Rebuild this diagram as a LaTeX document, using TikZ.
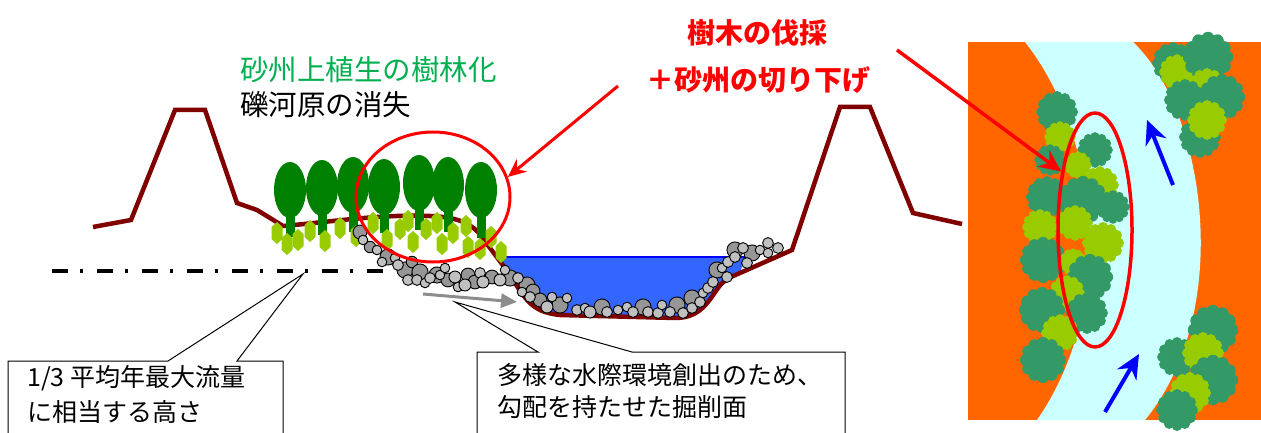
\documentclass[tikz,border=0pt]{standalone}
\usepackage{fontspec}
\setmainfont{Noto Sans CJK JP}
\usetikzlibrary{arrows.meta,shapes.geometric}

\definecolor{levee}{RGB}{128,0,0}
\definecolor{vegtext}{RGB}{0,176,80}
\definecolor{treegreen}{RGB}{0,128,0}
\definecolor{grass}{RGB}{153,204,0}
\definecolor{waterblue}{RGB}{51,102,255}
\definecolor{pebbleL}{RGB}{192,192,192}
\definecolor{pebbleD}{RGB}{150,150,150}
\definecolor{bankorange}{RGB}{255,102,0}
\definecolor{riverpale}{RGB}{204,255,255}
\definecolor{canopyD}{RGB}{51,153,102}
\definecolor{canopyL}{RGB}{153,204,0}
\definecolor{flowgray}{RGB}{140,140,140}

% lumpy tree crown seen from above: x, y, radius, colour
\newcommand\canopy[4]{%
  \begin{scope}[shift={(#1,#2)}]
    \fill[#4] (0,0) circle ({0.82*#3pt});
    \foreach \ang in {0,30,...,330}{\fill[#4] (\ang:{0.78*#3pt}) circle ({0.27*#3pt});}
  \end{scope}}
% small grass tuft on the bar
\newcommand\sprout[2]{\fill[grass] (#1,#2) ++(0,-11) -- ++(5.5,5) -- ++(0,12) -- ++(-5.5,5) -- ++(-5.5,-5) -- ++(0,-12) -- cycle;}
% tree in section: x, crown centre y, trunk foot y
\newcommand\sectree[3]{%
  \fill[treegreen] ({#1-4.5},#2) rectangle ({#1+4.5},#3);
  \fill[treegreen] (#1,#2) ellipse (16pt and 28pt);}

\tikzset{
  profile/.style={draw=levee, line width=4.5pt, line join=miter},
  pebble/.style={draw=black, line width=0.9pt},
  callout/.style={draw=black, line width=1pt, fill=white},
  boxtext/.style={anchor=west, inner sep=0pt, font=\fontsize{25}{25}\selectfont},
  headline/.style={inner sep=0pt, font=\fontsize{28.5}{28.5}\selectfont},
  redtext/.style={inner sep=0pt, text=red, font=\bfseries\fontsize{28}{28}\selectfont},
  ring/.style={draw=red, ellipse, line width=3pt, inner sep=0pt},
  redarrow/.style={draw=red, line width=3.5pt, -{Stealth[length=22pt,width=20pt]}},
  flowarrow/.style={draw=blue, line width=4pt, -{Stealth[length=24pt,width=22pt]}},
}

\begin{document}
\begin{tikzpicture}[x=1pt,y=-1pt]
\fill[white] (0,0) rectangle (1261,433);
\useasboundingbox (0,0) rectangle (1261,433);
\clip (0,0) rectangle (1261,433);

% ---------- cross-section ----------
% water in the excavated channel
\fill[waterblue] (497,257) -- (508,272) .. controls (525,298) and (530,312) .. (560,315)
  -- (675,318) .. controls (700,318) and (708,302) .. (718,288)
  .. controls (724,280) and (728,278) .. (740,273) -- (745,257) -- cycle;
\draw[blue, line width=1.5pt] (497,257) -- (745,257);

% levees, bar and channel bed
\draw[profile] (93,227) -- (131,220) -- (175,110) -- (205,110) -- (237,203) -- (257,210) -- (283,226)
  .. controls (330,222) and (380,214) .. (430,216) .. controls (455,217) and (468,222) .. (478,232)
  -- (508,272) .. controls (525,298) and (530,312) .. (560,315) -- (675,318)
  .. controls (700,318) and (708,302) .. (718,288) .. controls (724,280) and (728,278) .. (740,273)
  -- (792,250) -- (840,107) -- (870,107) -- (913,213) -- (962,224);

% trees on the bar
\sectree{290}{190}{237}
\sectree{322}{188}{235}
\sectree{353}{185}{232}
\sectree{384}{187}{233}
\sectree{419}{183}{230}
\sectree{448}{185}{232}
\sectree{481}{190}{238}

% grass tufts
\foreach \gx/\gy in {277/233,287/244,298/240,310/231,325/241,340/228,356/236,373/223,387/240,
  400/229,408/221,413/242,426/229,437/223,442/244,453/233,466/226,468/247,480/249,491/237,501/252}
  {\sprout{\gx}{\gy}}

% gravel
\foreach \px/\py/\pr in {360/232/6,370/247/5,388/257/7,405/270/7,412/262/5,420/272/7,437/275/7,448/280/6,
  468/275/6,475/282/6,492/277/6,510/278/7,527/285/7,533/291/6,540/300/6,560/305/7,602/307/7,643/307/7,677/305/7,
  692/298/7,717/270/7,735/250/7,752/253/7}
  {\filldraw[pebble, fill=pebbleD] (\px,\py) circle ({1.15*\pr pt});}
\foreach \px/\py/\pr in {363/240/4,377/250/4,382/262/4,395/258/4,398/265/4.5,408/280/4.5,417/280/4.5,
  425/283/4,430/278/4.5,440/275/4,445/268/4,455/277/5,458/287/4,465/285/5,480/273/4.5,483/282/5,
  500/280/5,505/270/4,518/278/4.5,522/292/4,530/297/4.5,
  547/307/5,552/297/4,567/298/4,577/310/4.5,585/308/4,590/312/5,607/312/4.5,618/310/4,
  627/307/4,633/312/4.5,648/312/4.5,658/313/4.5,662/305/4,670/312/4.5,683/313/4.5,
  692/308/4.5,700/302/4.5,703/293/4,708/288/4.5,713/282/4.5,722/268/4,727/277/4.5,
  728/262/4.5,735/257/4.5,743/248/4.5,747/263/4.5,760/250/4,768/243/4.5,768/253/4,778/248/4.5}
  {\filldraw[pebble, fill=pebbleL] (\px,\py) circle ({1.2*\pr pt});}

% reference water level
\coordinate (hwL) at (52,271);
\coordinate (hwR) at (392,271);
\draw[line width=4pt, dash pattern=on 16pt off 12pt on 3pt off 14pt] (hwL) -- (hwR);

% excavation slope direction
\coordinate (slopeA) at (423,294);
\coordinate (slopeB) at (517,302);
\draw[flowgray, line width=3pt, -{Triangle[length=16pt,width=14pt]}] (slopeA) -- (slopeB);

% headings
\node[headline, anchor=west, text=vegtext] (veg) at (240,70) {砂州上植生の樹林化};
\node[headline, anchor=west] (gravel) at (240,105) {礫河原の消失};
\node[redtext] (cut1) at (757,33) {樹木の伐採};
\node[redtext] (cut2) at (758,80) {＋砂州の切り下げ};

% area to be cleared
\node[ring, minimum width=154pt, minimum height=130pt] (zone) at (433,197) {};
\coordinate (leadL) at (618,86);
\draw[redarrow, line width=3pt, -{Stealth[length=18pt,width=16pt]}] (leadL) -- (zone.15);

% callouts
\coordinate (tipA) at (303,274);
\draw[callout] (8,445) -- (8,361) -- (168,361) -- (tipA) -- (237,361) -- (283,361) -- (283,445);
\node[boxtext] (noteA1) at (27,378) {1/3 平均年最大流量};
\node[boxtext] (noteA2) at (27,412) {に相当する高さ};

\coordinate (tipB) at (455,302);
\draw[callout] (477,445) -- (477,352) -- (538,352) -- (tipB) -- (632,352) -- (845,352) -- (845,445);
\node[boxtext] (noteB1) at (497,375) {多様な水際環境創出のため、};
\node[boxtext] (noteB2) at (497,407) {勾配を持たせた掘削面};

% ---------- plan view ----------
\fill[bankorange] (968,42) rectangle (1262,420);
\fill[riverpale] (1025,42) .. controls (1095,130) and (1120,300) .. (1037,420)
  -- (1145,420) .. controls (1235,310) and (1205,110) .. (1133,42) -- cycle;

% wooded bar on the inner bank
\canopy{1057}{112}{20}{canopyD}
\canopy{1060}{137}{15}{canopyL}
\canopy{1050}{160}{15}{canopyD}
\canopy{1095}{150}{17}{canopyD}
\canopy{1078}{165}{13}{canopyL}
\canopy{1100}{185}{18}{canopyL}
\canopy{1047}{197}{20}{canopyD}
\canopy{1083}{200}{23}{canopyD}
\canopy{1113}{207}{16}{canopyD}
\canopy{1040}{227}{17}{canopyL}
\canopy{1075}{223}{17}{canopyL}
\canopy{1103}{243}{20}{canopyL}
\canopy{1043}{260}{22}{canopyD}
\canopy{1073}{262}{13}{canopyL}
\canopy{1090}{277}{22}{canopyD}
\canopy{1067}{293}{17}{canopyL}
\canopy{1042}{310}{22}{canopyD}
\canopy{1087}{313}{20}{canopyD}
\canopy{1060}{333}{18}{canopyL}
\canopy{1043}{360}{22}{canopyD}

% trees on the outer bank, upstream and downstream
\canopy{1173}{63}{20}{canopyD}
\canopy{1177}{72}{17}{canopyL}
\canopy{1208}{57}{24}{canopyD}
\canopy{1207}{88}{19}{canopyL}
\canopy{1185}{100}{20}{canopyD}
\canopy{1222}{97}{22}{canopyD}
\canopy{1200}{137}{20}{canopyD}
\canopy{1207}{120}{19}{canopyL}

\canopy{1213}{330}{24}{canopyD}
\canopy{1177}{357}{19}{canopyD}
\canopy{1203}{353}{20}{canopyL}
\canopy{1213}{380}{24}{canopyD}
\canopy{1190}{393}{20}{canopyL}
\canopy{1177}{410}{20}{canopyD}

% flow direction
\coordinate (flowA1) at (1105,412);
\coordinate (flowA2) at (1139,354);
\draw[flowarrow] (flowA1) -- (flowA2);
\coordinate (flowB1) at (1173,185);
\coordinate (flowB2) at (1147,120);
\draw[flowarrow] (flowB1) -- (flowB2);

% clearing area in plan
\node[ring, minimum width=74pt, minimum height=234pt, line width=3.5pt] (planzone) at (1095,230) {};
\coordinate (leadR) at (897,50);
\draw[redarrow] (leadR) -- (planzone.120);
\end{tikzpicture}
\end{document}
